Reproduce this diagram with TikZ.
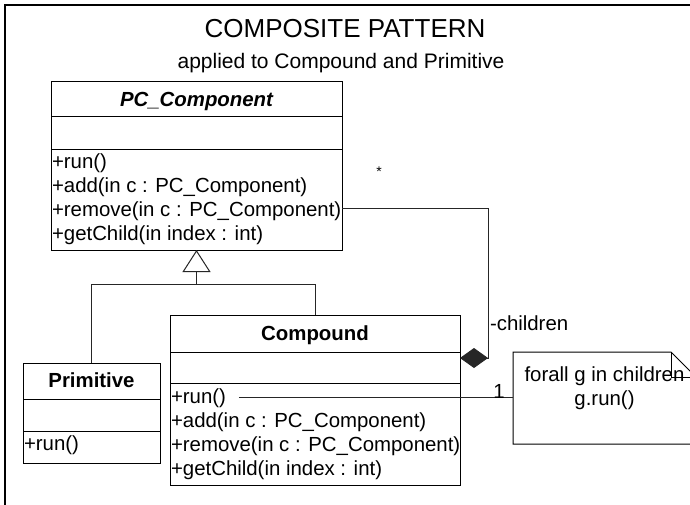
\documentclass[tikz,border=0pt]{standalone}
\usepackage{fontspec}
\setmainfont{Liberation Sans}
\usetikzlibrary{arrows.meta,calc}
\begin{document}
\begin{tikzpicture}[x=1pt,y=-1pt,
  every node/.style={inner sep=0pt, outer sep=0pt},
  umlbox/.style={draw=black, line width=1pt, anchor=north west, inner sep=0pt},
  body/.style={font=\fontsize{20.4}{24}\selectfont},
  op/.style={body, anchor=base west},
  classname/.style={font=\fontsize{20.4}{24}\selectfont\bfseries, anchor=base},
  sep/.style={draw=black, line width=1pt},
  link/.style={draw=black!85, line width=0.9pt},
]
\useasboundingbox (0,0) rectangle (690,504);
\fill[white] (0,0) rectangle (690,504);
\begin{scope}
\clip (0,0) rectangle (690,504);

% outer frame
\draw[line width=1.5pt] (5,5) rectangle (720,530);

% title
\node[font=\fontsize{26}{30}\selectfont, anchor=base] (title) at (345,37) {COMPOSITE PATTERN};
\node[font=\fontsize{21}{25}\selectfont, anchor=base] (subtitle) at (341,68) {applied to Compound and Primitive};

% abstract component class
\node[umlbox, minimum width=291pt, minimum height=169pt] (pc) at (51,81) {};
\draw[sep] ($(pc.north west)+(0,35)$) -- ($(pc.north east)+(0,35)$);
\draw[sep] ($(pc.north west)+(0,68)$) -- ($(pc.north east)+(0,68)$);
\node[classname, font=\fontsize{20.4}{24}\selectfont\bfseries\itshape] (pcname) at (196.5,106) {PC\_Component};
\node[op] (pcrun) at (52,168) {+run()};
\node[op] (pcadd) at (52,192) {+add(in c : PC\_Component)};
\node[op] (pcremove) at (52,216) {+remove(in c : PC\_Component)};
\node[op] (pcget) at (52,240) {+getChild(in index : int)};

% leaf class
\node[umlbox, minimum width=137pt, minimum height=100pt] (prim) at (23,363) {};
\draw[sep] ($(prim.north west)+(0,36)$) -- ($(prim.north east)+(0,36)$);
\draw[sep] ($(prim.north west)+(0,68)$) -- ($(prim.north east)+(0,68)$);
\node[classname] (primname) at (91.5,387) {Primitive};
\node[op] (primrun) at (24,450) {+run()};

% composite class
\node[umlbox, minimum width=290pt, minimum height=170pt] (comp) at (170,315) {};
\draw[sep] ($(comp.north west)+(0,37)$) -- ($(comp.north east)+(0,37)$);
\draw[sep] ($(comp.north west)+(0,68)$) -- ($(comp.north east)+(0,68)$);
\node[classname] (compname) at (315,340) {Compound};
\node[op] (crun) at (171,403) {+run()};
\node[op] (cadd) at (171,427) {+add(in c : PC\_Component)};
\node[op] (cremove) at (171,451) {+remove(in c : PC\_Component)};
\node[op] (cget) at (171,475) {+getChild(in index : int)};

% generalization
\coordinate (genjoin) at ($(pc.south)+(0,34)$);
\draw[link, -{Triangle[open, length=22pt, width=28pt, line width=1pt]}] (prim.north) |- (genjoin) -- (pc.south);
\draw[link] (comp.north) |- (genjoin);

% composition
\coordinate (cstart) at ($(pc.north east)+(0,127)$);
\coordinate (ctip) at ($(comp.north east)+(0,43)$);
\draw[link, -{Diamond[length=28pt, width=20pt]}] (cstart) -- ++(146,0) |- (ctip);
\node[font=\fontsize{14}{16}\selectfont, anchor=base] (mult) at (379,176) {*};
\node[body, anchor=base west] (role) at (490,330) {-children};

% note
\node[minimum width=183pt, minimum height=92pt, anchor=north west] (note) at (513,352) {};
\draw[line width=1pt] (note.north west) -- ($(note.north east)+(-25,0)$) -- ($(note.north east)+(0,25)$) -- (note.south east) -- (note.south west) -- cycle;
\draw[line width=0.8pt] ($(note.north east)+(-25,0)$) -- ($(note.north east)+(-25,25)$) -- ($(note.north east)+(0,25)$);
\node[body, anchor=base] (noteline1) at (604.5,381) {forall g in children};
\node[body, anchor=base] (noteline2) at (604.5,405) {g.run()};
\draw[link] ($(crun.east)+(13,0)$) -- (crun.east -| note.west);
\node[body, anchor=base] (one) at (499,398) {1};
\end{scope}
\end{tikzpicture}
\end{document}
